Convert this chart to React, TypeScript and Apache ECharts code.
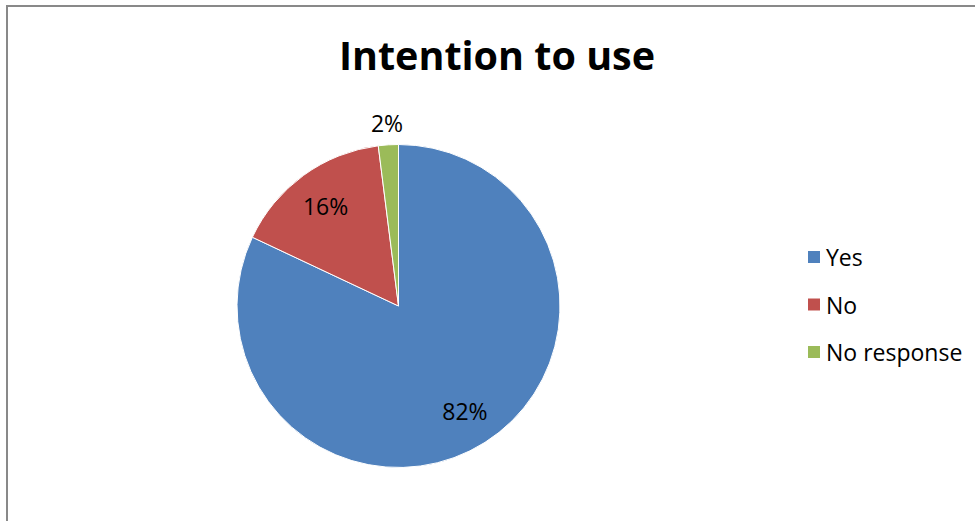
import React, { useEffect, useRef } from "react";
import * as echarts from "echarts";

const categories = ["Yes", "No", "No response"];
const values = [82, 16, 2];
const colors = ["#4F81BD", "#C0504D", "#9BBB59"];
const labelTexts = ["82%", "16%", "2%"];
const outsideLabel = [false, false, true];

const FONT = "Open Sans";

export default function App() {
  const ref = useRef<HTMLDivElement>(null);
  useEffect(() => {
    const chart = echarts.init(ref.current!, null, { renderer: "svg" });
    const center = [398.5, 306];
    const base = categories.map((name, i) => ({ name, value: values[i] }));
    const labelStyle = {
      position: "inside",
      fontFamily: FONT,
      fontSize: 23,
      color: "#000",
      formatter: (p: any) => labelTexts[p.dataIndex],
    };
    chart.setOption({
      animation: false,
      backgroundColor: "#ffffff",
      title: {
        text: "Intention to use",
        left: 492,
        top: 30,
        textAlign: "center",
        textStyle: { fontFamily: FONT, fontSize: 39.5, fontWeight: "bold", color: "#000" },
      },
      legend: {
        orient: "vertical",
        left: 801,
        top: 240,
        itemWidth: 14,
        itemHeight: 14,
        itemGap: 23.5,
        icon: "rect",
        textStyle: { fontFamily: FONT, fontSize: 23, lineHeight: 24, color: "#000" },
        data: categories.map((name, i) => ({ name, itemStyle: { color: colors[i] } })),
      },
      graphic: [
        {
          type: "rect",
          shape: { x: 7, y: 6, width: 1200, height: 800 },
          style: { fill: "none", stroke: "#898989", lineWidth: 2 },
          silent: true,
        },
      ],
      series: [
        {
          type: "pie",
          center,
          radius: 161.5,
          startAngle: 90,
          clockwise: true,
          label: { show: false },
          labelLine: { show: false },
          itemStyle: { borderColor: "#ffffff", borderWidth: 1 },
          data: base.map((d, i) => ({ ...d, itemStyle: { color: colors[i] } })),
        },
        {
          type: "pie",
          center,
          radius: 242,
          startAngle: 90,
          silent: true,
          legendHoverLink: false,
          z: 5,
          itemStyle: { color: "rgba(0,0,0,0)" },
          labelLine: { show: false },
          label: labelStyle,
          data: base.map((d, i) => ({ ...d, label: { show: !outsideLabel[i] } })),
        },
        {
          type: "pie",
          center,
          radius: 361,
          startAngle: 90,
          silent: true,
          legendHoverLink: false,
          z: 5,
          itemStyle: { color: "rgba(0,0,0,0)" },
          labelLine: { show: false },
          label: labelStyle,
          data: base.map((d, i) => ({ ...d, label: { show: outsideLabel[i] } })),
        },
      ],
    });
    return () => chart.dispose();
  }, []);
  return (
    <div
      ref={ref}
      style={{ position: "absolute", left: 0, top: 0, width: 975, height: 521 }}
    />
  );
}
